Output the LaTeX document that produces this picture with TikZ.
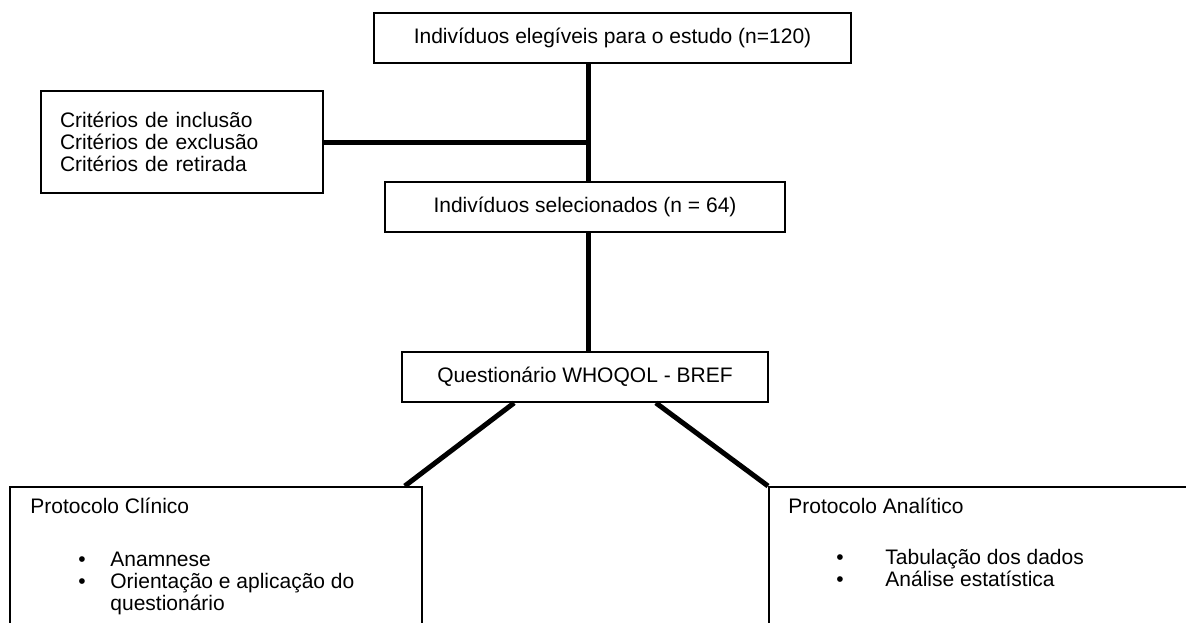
\documentclass[tikz,border=0pt]{standalone}
\usepackage{fontspec}
\setmainfont{Liberation Sans}
\usetikzlibrary{calc}
\begin{document}
\begin{tikzpicture}[x=0.5pt,y=-0.5pt]
\tikzset{box/.style = {shape=rectangle,draw,line width=0.9pt,minimum height=25pt,inner sep=0pt,font=\fontsize{10.5}{11}\selectfont}}
\tikzset{link/.style = {-,line width=2.5pt}}
\tikzset{txt/.style = {anchor=base west,inner sep=0pt,font=\fontsize{10.5}{11}\selectfont}}
\useasboundingbox (0,0) rectangle (1186,622);
\clip (0,0) rectangle (1186,622);
% boxes down the middle
\node[box,minimum width=238.5pt] (elig) at (612.5,38) {Indivíduos elegíveis para o estudo (n=120)};
\node[box,minimum width=200pt] (sel) at (585,207) {Indivíduos selecionados (n = 64)};
\node[box,minimum width=183pt] (quest) at (585,377) {Questionário WHOQOL - BREF};
% criteria on the left
\node[box,minimum width=141pt,minimum height=51pt,align=left,text width=122pt] (crit) at (182,142) {Critérios de inclusão\\Critérios de exclusão\\Critérios de retirada};
% protocol boxes at the bottom, cut by the page
\node[box,anchor=north west,minimum width=206pt,minimum height=150pt] (clin) at (9,486) {};
\node[box,anchor=north west,minimum width=260pt,minimum height=150pt] (anal) at (768,486) {};
\node[txt] (clint) at (30,513) {Protocolo Clínico};
\node[txt] (clinb1) at (78,566) {\textbullet};
\node[txt] (clinb2) at (78,588) {\textbullet};
\node[txt] (clin1) at (110,566) {Anamnese};
\node[txt] (clin2) at (110,588) {Orientação e aplicação do};
\node[txt] (clin3) at (110,610) {questionário};
\node[txt] (analt) at (788,513) {Protocolo Analítico};
\node[txt] (analb1) at (836,564) {\textbullet};
\node[txt] (analb2) at (836,586) {\textbullet};
\node[txt] (anal1) at (885,564) {Tabulação dos dados};
\node[txt] (anal2) at (885,586) {Análise estatística};
% thick links
\coordinate (spine) at (588,0);
\draw[link] (spine |- elig.south) -- (spine |- sel.north);
\draw[link] (crit.east) -- (crit.east -| spine); % criteria join the spine
\draw[link] (spine |- sel.south) -- (spine |- quest.north);
\draw[link] ($(quest.south west)+(113,0)$) -- ($(clin.north east)+(-18,0)$);
\draw[link] ($(quest.south east)+(-113,0)$) -- (anal.north west);
\end{tikzpicture}
\end{document}
